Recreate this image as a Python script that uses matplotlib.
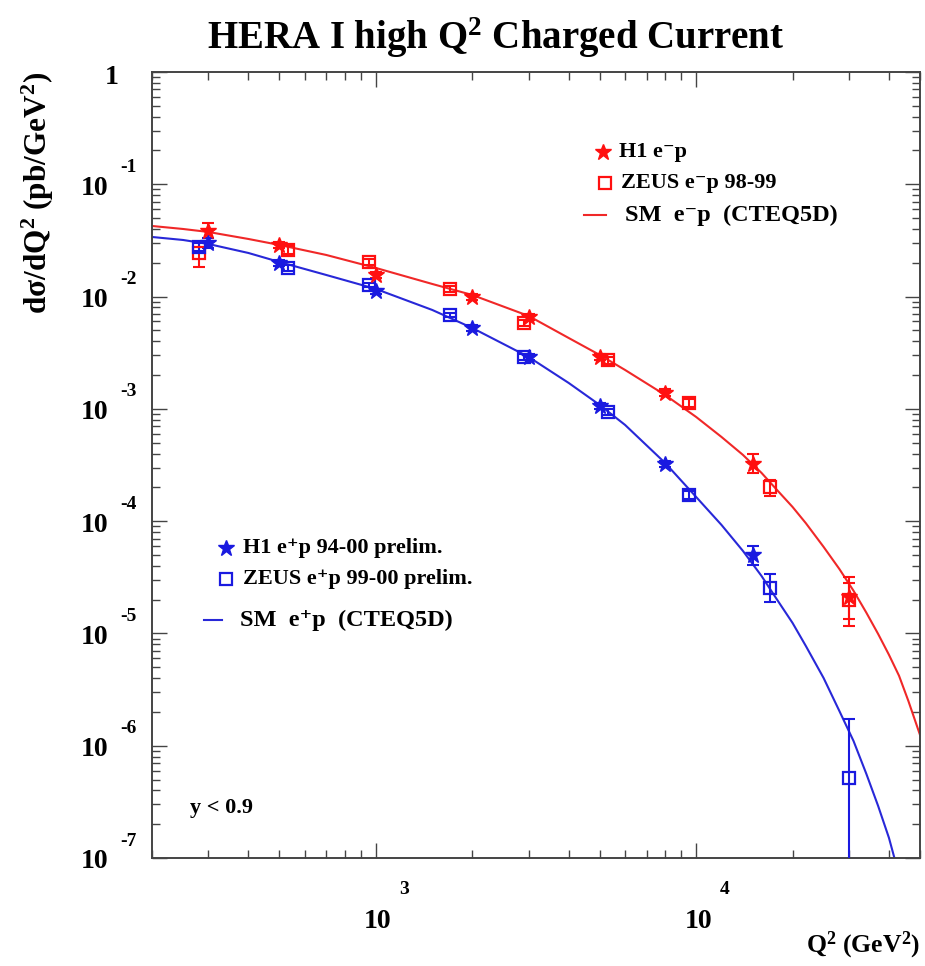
import numpy as np
import matplotlib
matplotlib.use('Agg')
import matplotlib.pyplot as plt
import matplotlib.transforms as mtransforms
from matplotlib.ticker import LogLocator, NullFormatter

plt.rcParams['font.family'] = ['Liberation Serif', 'DejaVu Serif']
plt.rcParams['font.weight'] = 'bold'
plt.rcParams['mathtext.fontset'] = 'custom'
plt.rcParams['mathtext.rm'] = 'Liberation Serif:bold'
plt.rcParams['mathtext.it'] = 'Liberation Serif:bold'
plt.rcParams['mathtext.bf'] = 'Liberation Serif:bold'
plt.rcParams['mathtext.default'] = 'rm'

# ---------------- data ----------------
h1_em_q2 = [300, 500, 1000, 2000, 3000, 5000, 8000, 15000, 30000]
h1_em = [0.0384, 0.0288, 0.0156, 0.0099, 0.00658, 0.00290, 0.00139, 3.23e-4, 2.11e-5]
h1_em_up = [0.007, 0.002, 0.0010, 0.0006, 0.0004, 0.0002, 0.0001, 7.0e-5, 1.1e-5]
h1_em_dn = [0.007, 0.002, 0.0010, 0.0006, 0.0004, 0.0002, 0.0001, 5.5e-5, 0.95e-5]

zeus_em_q2 = [280, 530, 950, 1700, 2900, 5300, 9500, 17000, 30000]
zeus_em = [0.0244, 0.0260, 0.0203, 0.0117, 0.00582, 0.00272, 0.00113, 2.02e-4, 1.99e-5]
zeus_em_up = [0.006, 0.002, 0.0012, 0.0007, 0.0004, 0.0002, 0.00009, 3.1e-5, 0.8e-5]
zeus_em_dn = [0.006, 0.002, 0.0012, 0.0007, 0.0004, 0.0002, 0.00009, 3.4e-5, 0.65e-5]

h1_ep_q2 = [300, 500, 1000, 2000, 3000, 5000, 8000, 15000]
h1_ep = [0.0300, 0.0199, 0.0112, 0.00525, 0.00290, 0.00106, 3.23e-4, 5.0e-5]
h1_ep_up = [0.003, 0.0012, 0.0006, 0.0003, 0.00015, 0.00006, 0.00002, 1.0e-5]
h1_ep_dn = [0.003, 0.0012, 0.0006, 0.0003, 0.00015, 0.00006, 0.00002, 0.93e-5]

zeus_ep_q2 = [280, 530, 950, 1700, 2900, 5300, 9500, 17000, 30000]
zeus_ep = [0.0277, 0.0180, 0.0127, 0.00686, 0.00290, 9.38e-4, 1.71e-4, 2.54e-5, 5.17e-7]
zeus_ep_up = [0.002, 0.001, 0.0006, 0.0003, 0.00015, 0.00005, 0.000015, 0.85e-5, 1.2e-6]
zeus_ep_dn = [0.002, 0.001, 0.0006, 0.0003, 0.00015, 0.00005, 0.000015, 0.63e-5, 5.1699e-7]

sm_q2 = [200, 250, 300, 400, 500, 700, 1000, 1500, 2000, 3000, 4000, 5000, 6000, 8000,
         10000, 12000, 14000, 16000, 18000, 20000, 22000, 25000, 28000, 31000, 34000,
         37000, 40000, 43000, 46000, 50000]
sm_em = [0.04253, 0.03999, 0.03760, 0.03258, 0.02881, 0.02347, 0.01798, 0.01295, 0.01033,
         0.006720, 0.004278, 0.003020, 0.002220, 0.001330, 8.47e-4, 5.62e-4, 3.89e-4,
         2.69e-4, 1.857e-4, 1.338e-4, 9.6e-5, 5.9e-5, 3.75e-5, 2.40e-5, 1.53e-5,
         9.90e-6, 6.45e-6, 4.20e-6, 2.50e-6, 1.248e-6]

sm_ep_q2 = [200, 250, 300, 400, 500, 700, 1000, 1500, 2000, 3000, 4000, 5000, 6000, 8000,
            10000, 12000, 14000, 16000, 18000, 20000, 22000, 25000, 28000, 31000, 34000,
            37000, 40000, 41600]
sm_ep = [0.03394, 0.03192, 0.02940, 0.02445, 0.02032, 0.01557, 0.01169, 0.007599, 0.005253,
         0.002898, 0.001701, 0.001083, 7.19e-4, 3.30e-4, 1.642e-4, 9.25e-5, 5.43e-5,
         3.25e-5, 1.948e-5, 1.240e-5, 7.74e-6, 4.01e-6, 2.04e-6, 1.103e-6, 5.61e-7,
         2.91e-7, 1.51e-7, 1.0e-7]

x_major = [1e3, 1e4]
y_major_exp = [0, -1, -2, -3, -4, -5, -6, -7]

RED = '#ff1010'
RED_L = '#f02828'
BLUE = '#1a1ae0'
BLUE_L = '#2828d8'

# ---------------- figure ----------------
W, H = 925, 966
fig = plt.figure(figsize=(W / 100, H / 100), dpi=100)
fig.patch.set_facecolor('white')
ax = fig.add_axes([152 / W, 1 - 858 / H, (920 - 152) / W, (858 - 72) / H])
ax.set_xscale('log')
ax.set_yscale('log')
ax.set_xlim(200, 5e4)
ax.set_ylim(1e-7, 1)

for s in ax.spines.values():
    s.set_color('#444444')
    s.set_linewidth(1.4)

ax.xaxis.set_major_locator(LogLocator(base=10, numticks=20))
ax.xaxis.set_minor_locator(LogLocator(base=10, subs=np.arange(2, 10), numticks=50))
ax.yaxis.set_major_locator(LogLocator(base=10, numticks=20))
ax.yaxis.set_minor_locator(LogLocator(base=10, subs=np.arange(2, 10), numticks=50))
ax.xaxis.set_minor_formatter(NullFormatter())
ax.yaxis.set_minor_formatter(NullFormatter())
ax.tick_params(which='both', direction='in', top=True, right=True,
               labelbottom=False, labelleft=False, color='#444444', width=1.0)
ax.tick_params(which='major', length=11)
ax.tick_params(which='minor', length=5.5)

# curves
ax.plot(sm_q2, sm_em, color=RED_L, lw=1.5, zorder=2)
ax.plot(sm_ep_q2, sm_ep, color=BLUE_L, lw=1.5, zorder=2)

# error bars
def eb(q, v, dn, up, c):
    ax.errorbar(q, v, yerr=[dn, up], fmt='none', ecolor=c, elinewidth=1.5,
                capsize=4, capthick=1.5, zorder=3)

eb(h1_em_q2, h1_em, h1_em_dn, h1_em_up, RED)
eb(zeus_em_q2, zeus_em, zeus_em_dn, zeus_em_up, RED)
eb(h1_ep_q2, h1_ep, h1_ep_dn, h1_ep_up, BLUE)
eb(zeus_ep_q2, zeus_ep, zeus_ep_dn, zeus_ep_up, BLUE)

ax.plot(zeus_em_q2, zeus_em, ls='none', marker='s', ms=9, mfc='none', mec=RED, mew=1.6, zorder=4)
ax.plot(zeus_ep_q2, zeus_ep, ls='none', marker='s', ms=9, mfc='none', mec=BLUE, mew=1.6, zorder=4)
ax.plot(h1_em_q2, h1_em, ls='none', marker='*', ms=12, mfc=RED, mec=RED, mew=1, zorder=5)
ax.plot(h1_ep_q2, h1_ep, ls='none', marker='*', ms=12, mfc=BLUE, mec=BLUE, mew=1, zorder=5)

# ---------------- ROOT-style tick labels ----------------
def figpx(x, y):
    return x / W, 1 - y / H

ty = mtransforms.blended_transform_factory(fig.transFigure, ax.transData)
for e in y_major_exp:
    v = 10.0 ** e
    if e == 0:
        ax.text(119 / W, v, '1', transform=mtransforms.offset_copy(ty, fig=fig, y=-5, units='dots'),
                ha='right', va='center', fontsize=20, fontweight='bold')
    else:
        ax.text(108 / W, v, '10', transform=mtransforms.offset_copy(ty, fig=fig, y=-4, units='dots'),
                ha='right', va='center', fontsize=20, fontweight='bold')
        ax.text(120 / W, v, '-%d' % (-e), transform=mtransforms.offset_copy(ty, fig=fig, y=17, units='dots'),
                ha='left', va='center', fontsize=14, fontweight='bold')

tx = mtransforms.blended_transform_factory(ax.transData, fig.transFigure)
for q in x_major:
    ax.text(q, 1 - 922 / H, '10', transform=mtransforms.offset_copy(tx, fig=fig, x=2, units='dots'),
            ha='center', va='center', fontsize=20, fontweight='bold')
    ax.text(q, 1 - 890 / H, '%d' % int(round(np.log10(q))),
            transform=mtransforms.offset_copy(tx, fig=fig, x=28, units='dots'),
            ha='center', va='center', fontsize=14, fontweight='bold')

# ---------------- labels ----------------
fig.text(*figpx(496, 38), r'HERA I high Q$^{2}$ Charged Current', ha='center', va='center',
         fontsize=28, fontweight='bold')
fig.text(*figpx(38, 72), r'd$\sigma$/dQ$^{2}$ (pb/GeV$^{2}$)', rotation=90, ha='center', va='top',
         fontsize=22.5, fontweight='bold')
fig.text(*figpx(920, 945), r'Q$^{2}$ (GeV$^{2}$)', ha='right', va='center',
         fontsize=18.5, fontweight='bold')
fig.text(*figpx(190, 808), 'y < 0.9', ha='left', va='center', fontsize=16, fontweight='bold')

# ---------------- legends ----------------
def leg_marker(x, y, **kw):
    fx, fy = figpx(x, y)
    fig.add_artist(plt.Line2D([fx], [fy], transform=fig.transFigure, ls='none', **kw))

def leg_line(x0, x1, y, c):
    fx0, fy = figpx(x0, y)
    fx1, _ = figpx(x1, y)
    fig.add_artist(plt.Line2D([fx0, fx1], [fy, fy], transform=fig.transFigure, color=c, lw=1.5))

# e- p legend (top right)
leg_marker(603, 152, marker='*', ms=12, mfc=RED, mec=RED)
fig.text(*figpx(619, 152), 'H1 e\u207bp', ha='left', va='center', fontsize=16, fontweight='bold')
leg_marker(605, 183, marker='s', ms=9, mfc='none', mec=RED, mew=1.6)
fig.text(*figpx(621, 183), 'ZEUS e\u207bp 98-99', ha='left', va='center', fontsize=16, fontweight='bold')
leg_line(584, 606, 215, RED_L)
fig.text(*figpx(625, 215), 'SM  e\u207bp  (CTEQ5D)', ha='left', va='center', fontsize=17.5, fontweight='bold')

# e+ p legend (lower left)
leg_marker(226, 548, marker='*', ms=12, mfc=BLUE, mec=BLUE)
fig.text(*figpx(243, 548), 'H1 e\u207ap 94-00 prelim.', ha='left', va='center', fontsize=16, fontweight='bold')
leg_marker(226, 579, marker='s', ms=9, mfc='none', mec=BLUE, mew=1.6)
fig.text(*figpx(243, 579), 'ZEUS e\u207ap 99-00 prelim.', ha='left', va='center', fontsize=16, fontweight='bold')
leg_line(204, 222, 620, BLUE_L)
fig.text(*figpx(240, 620), 'SM  e\u207ap  (CTEQ5D)', ha='left', va='center', fontsize=17.5, fontweight='bold')

fig.savefig('out.png', dpi=100, facecolor='white')
